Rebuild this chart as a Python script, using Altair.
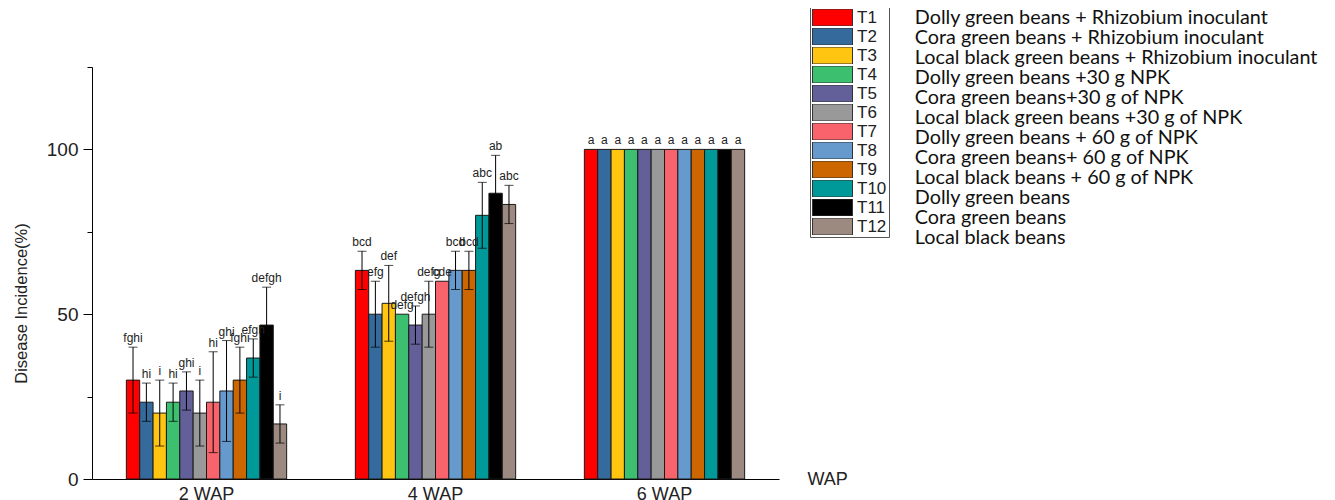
import altair as alt
import pandas as pd

treatments = ["T1", "T2", "T3", "T4", "T5", "T6", "T7", "T8", "T9", "T10", "T11", "T12"]
descs = [
    "Dolly green beans + Rhizobium inoculant",
    "Cora green beans + Rhizobium inoculant",
    "Local black green beans + Rhizobium inoculant",
    "Dolly green beans +30 g NPK",
    "Cora green beans+30 g of NPK",
    "Local black green beans +30 g of NPK",
    "Dolly green beans + 60 g of NPK",
    "Cora green beans+ 60 g of NPK",
    "Local black beans + 60 g of NPK",
    "Dolly green beans",
    "Cora green beans",
    "Local black beans",
]
colors = ["#ff0000", "#356a9c", "#ffc511", "#3cc070", "#625f99", "#999999",
          "#f9636b", "#6699cc", "#cc6600", "#009999", "#000000", "#9c8a80"]
weeks = ["2 WAP", "4 WAP", "6 WAP"]

di_2wap = [30, 23.3, 20, 23.3, 26.7, 20, 23.3, 26.7, 30, 36.7, 46.7, 16.7]
err_2wap = [10, 5.8, 10, 5.8, 5.8, 10, 15.3, 15.3, 10, 5.8, 11.5, 5.8]
lab_2wap = ["fghi", "hi", "i", "hi", "ghi", "i", "hi", "ghi", "fghi", "efgh", "defgh", "i"]

di_4wap = [63.3, 50, 53.3, 50, 46.7, 50, 60, 63.3, 63.3, 80, 86.7, 83.3]
err_4wap = [5.8, 10, 11.5, 0, 5.8, 10, 0, 5.8, 5.8, 10, 11.5, 5.8]
lab_4wap = ["bcd", "efg", "def", "defg", "defgh", "defg", "cde", "bcd", "bcd", "abc", "ab", "abc"]

di_6wap = [100, 100, 100, 100, 100, 100, 100, 100, 100, 100, 100, 100]
err_6wap = [0, 0, 0, 0, 0, 0, 0, 0, 0, 0, 0, 0]
lab_6wap = ["a", "a", "a", "a", "a", "a", "a", "a", "a", "a", "a", "a"]

rows = []
for w, vals, errs, labs in zip(weeks, [di_2wap, di_4wap, di_6wap],
                               [err_2wap, err_4wap, err_6wap],
                               [lab_2wap, lab_4wap, lab_6wap]):
    for t, d, v, e, l in zip(treatments, descs, vals, errs, labs):
        rows.append(dict(Week=w, Treatment=t, Desc=d, DI=v, Err=e,
                         Low=v - e, High=v + e, Letter=l))
df = pd.DataFrame(rows)

FONT = "Liberation Sans"
YTITLE = "Disease Incidence(%)"

x = alt.X("Week:N", sort=weeks,
          scale=alt.Scale(paddingInner=0.3, paddingOuter=0.15),
          axis=alt.Axis(title="WAP", labelAngle=0, ticks=False, domainColor="black",
                        labelFont=FONT, labelFontSize=18, labelColor="#222",
                        labelPadding=6, titleFont=FONT, titleFontSize=18,
                        titleFontWeight="normal", titleColor="#222",
                        titleX=715, titleY=0, titleAlign="left", titleBaseline="middle"))
xo = alt.XOffset("Treatment:N", sort=treatments,
                 scale=alt.Scale(paddingInner=0, paddingOuter=0))
y = alt.Y("DI:Q", scale=alt.Scale(domain=[0, 125], nice=False),
          axis=alt.Axis(values=[0, 25, 50, 75, 100, 125],
                        labelExpr="datum.value % 50 === 0 ? datum.label : ''",
                        tickSize={"condition": {"test": "datum.value % 50 === 0", "value": 9}, "value": 5},
                        grid=False, domainColor="black", tickColor="black",
                        labelFont=FONT, labelFontSize=19, labelColor="#222", labelPadding=5,
                        title=YTITLE, titleFont=FONT, titleFontSize=16.5,
                        titleFontWeight="normal", titleColor="#222", titleAngle=-90,
                        titleX=-71, titleY=236, titleAlign="center", titleBaseline="middle"))

base = alt.Chart(df)

bars = base.mark_bar(stroke="#1a1a1a", strokeWidth=1).encode(
    x=x, xOffset=xo, y=y,
    fill=alt.Fill("Treatment:N", sort=treatments,
                  scale=alt.Scale(domain=treatments, range=colors),
                  legend=alt.Legend(orient="none", legendX=718, legendY=-60, title=None,
                                    symbolType="M-1,-0.425H1V0.425H-1Z", symbolSize=1600,
                                    symbolStrokeColor="#333", symbolStrokeWidth=1,
                                    symbolOpacity=1, clipHeight=17, rowPadding=1,
                                    labelOffset=4, labelFont=FONT, labelFontSize=17,
                                    labelColor="#222", padding=2, strokeColor="#555",
                                    fillColor="white")),
)

err = base.transform_filter("datum.Err > 0").mark_rule(color="black", strokeWidth=1).encode(
    x=x, xOffset=xo, y=alt.Y("Low:Q", title=YTITLE), y2="High:Q")
cap_hi = base.transform_filter("datum.Err > 0").mark_tick(color="black", thickness=1, size=9).encode(
    x=x, xOffset=xo, y=alt.Y("High:Q", title=YTITLE))
cap_lo = base.transform_filter("datum.Err > 0").mark_tick(color="black", thickness=1, size=9).encode(
    x=x, xOffset=xo, y=alt.Y("Low:Q", title=YTITLE))
letters = base.mark_text(fontSize=12, font=FONT, baseline="bottom", dy=-2, color="#222").encode(
    x=x, xOffset=xo, y=alt.Y("High:Q", title=YTITLE), text="Letter:N")

ghost = base.mark_point(opacity=0).encode(
    x=x, xOffset=xo, y=alt.Y("DI:Q", title=YTITLE),
    shape=alt.Shape("Desc:N", sort=descs, scale=alt.Scale(domain=descs),
                    legend=alt.Legend(orient="none", legendX=803, legendY=-58, title=None,
                                      symbolSize=0, symbolOpacity=0, symbolStrokeWidth=0,
                                      clipHeight=17, rowPadding=-1, labelOffset=0,
                                      labelFont="Lato", labelFontSize=19.8, labelColor="#111",
                                      labelLimit=600, padding=0)),
)

chart = alt.layer(bars, err, cap_hi, cap_lo, letters, ghost).properties(
    width=687, height=412,
    padding={"left": 84, "top": 59, "right": 548, "bottom": 24},
    autosize=alt.AutoSizeParams(type="none"),
).resolve_legend(fill="independent", shape="independent").configure_view(stroke=None)

chart.save("out.html", embed_options={"renderer": "svg", "actions": False})
